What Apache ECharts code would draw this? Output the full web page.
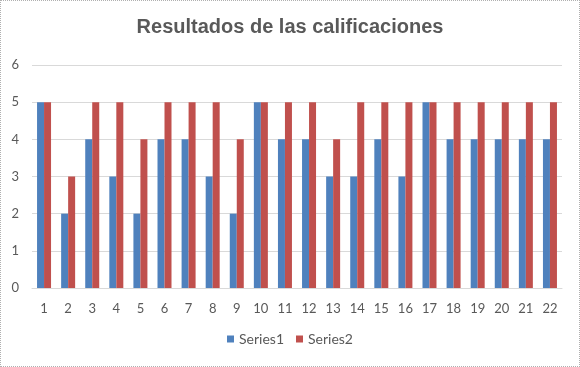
<!DOCTYPE html>
<html>
<head>
<meta charset="utf-8">
<script src="https://cdn.jsdelivr.net/npm/echarts@6/dist/echarts.min.js"></script>
<style>
html,body{margin:0;padding:0;background:#fff;}
#c{width:578px;height:365px;border:1px dotted #b0b0b0;}
</style>
</head>
<body>
<div id="c"></div>
<script>
const categories = ['1','2','3','4','5','6','7','8','9','10','11','12','13','14','15','16','17','18','19','20','21','22'];
const series1 = [5,2,4,3,2,4,4,3,2,5,4,4,3,3,4,3,5,4,4,4,4,4];
const series2 = [5,3,5,5,4,5,5,5,4,5,5,5,4,5,5,5,5,5,5,5,5,5];
const seriesNames = ['Series1','Series2'];
const yTicks = {min:0, max:6, interval:1};

const chart = echarts.init(document.getElementById('c'));
chart.setOption({
  animation:false,
  title:{text:'Resultados de las calificaciones',left:'center',top:11,
    textStyle:{fontFamily:'Liberation Sans',fontWeight:'bold',fontSize:20,color:'#595959'}},
  legend:{bottom:15,left:'center',itemWidth:7,itemHeight:7,itemGap:12,icon:'rect',
    textStyle:{fontFamily:'Lato',fontSize:14,color:'#595959'},data:seriesNames},
  grid:{left:31,right:17,top:64,bottom:78},
  xAxis:{type:'category',data:categories,
    axisLine:{lineStyle:{color:'#d9d9d9'}},axisTick:{show:false},
    axisLabel:{fontFamily:'Lato',fontSize:13,color:'#595959',margin:14}},
  yAxis:{type:'value',min:yTicks.min,max:yTicks.max,interval:yTicks.interval,
    axisLine:{show:false},axisTick:{show:false},
    splitLine:{lineStyle:{color:'#d9d9d9'}},
    axisLabel:{fontFamily:'Lato',fontSize:13,color:'#595959',margin:13}},
  series:[
    {name:seriesNames[0],type:'bar',data:series1,barWidth:7,barGap:'0%',itemStyle:{color:'#4F81BD'}},
    {name:seriesNames[1],type:'bar',data:series2,barWidth:7,barGap:'0%',itemStyle:{color:'#C0504D'}}
  ]
});
</script>
</body>
</html>
